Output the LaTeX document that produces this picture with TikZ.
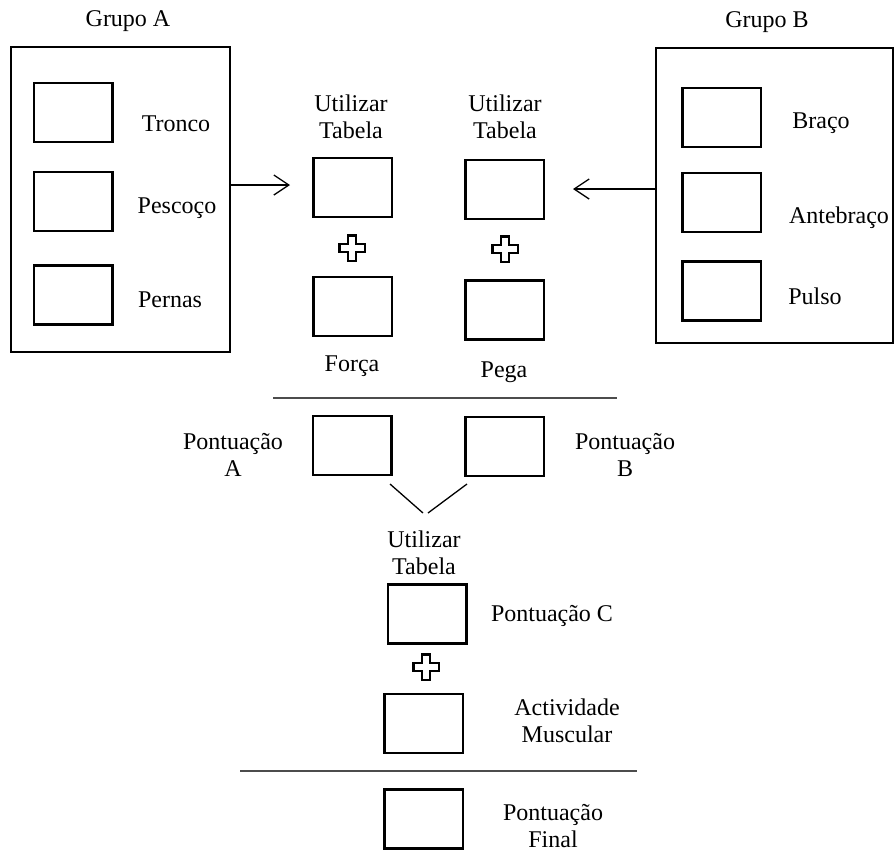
\documentclass[tikz,border=0pt]{standalone}
\usepackage{fontspec}
\setmainfont{Liberation Serif}
\usetikzlibrary{arrows.meta}

\tikzset{
  lbl/.style={inner sep=0pt, align=center, font=\fontsize{24}{27}\selectfont},
  box/.style={draw, line width=2.5pt, inner sep=0pt, minimum width=78.5pt, minimum height=59pt},
  group/.style={draw, line width=2.5pt, inner sep=0pt},
  arr/.style={line width=1.3pt, -{Straight Barb[length=15pt,width=20pt]}},
  rule/.style={draw=black!70, line width=1.8pt},
  link/.style={line width=1.3pt},
  plus/.pic={
    \draw[line width=2.2pt, fill=white]
      (-3.8,-12.6) -- (3.8,-12.6) -- (3.8,-3.8) -- (12.6,-3.8) -- (12.6,3.8)
      -- (3.8,3.8) -- (3.8,12.6) -- (-3.8,12.6) -- (-3.8,3.8) -- (-12.6,3.8)
      -- (-12.6,-3.8) -- (-3.8,-3.8) -- cycle;
  }
}

\begin{document}
\begin{tikzpicture}[x=1pt, y=-1pt]
\useasboundingbox (0,0) rectangle (895,852);

% Grupo A
\node[lbl] (tA) at (128,21) {Grupo A};
\node[group, minimum width=219pt, minimum height=305pt] (grpA) at (120.5,199.5) {};
\node[box] (a1) at (73,112.5) {};
\node[box] (a2) at (73,201.5) {};
\node[box] (a3) at (73,295) {};
\node[lbl] (la1) at (176,124) {Tronco};
\node[lbl] (la2) at (177,208) {Pescoço};
\node[lbl] (la3) at (170,300) {Pernas};

% Grupo B
\node[lbl] (tB) at (767,22) {Grupo B};
\node[group, minimum width=237pt, minimum height=295pt] (grpB) at (774.5,195.5) {};
\node[box] (b1) at (721.5,117.5) {};
\node[box] (b2) at (721.5,202.5) {};
\node[box] (b3) at (721.5,291) {};
\node[lbl] (lb1) at (821,123) {Braço};
\node[lbl] (lb2) at (839,218) {Antebraço};
\node[lbl] (lb3) at (815,296) {Pulso};

% Tabela A + Força
\node[lbl] (u1) at (351,117) {Utilizar\\Tabela};
\node[box] (t1) at (352.5,187.5) {};
\pic at (352,248) {plus};
\node[box] (f1) at (352.5,306.5) {};
\node[lbl] (lf1) at (352,366) {Força};

% Tabela B + Pega
\node[lbl] (u2) at (505,117) {Utilizar\\Tabela};
\node[box] (t2) at (504.5,189.5) {};
\pic at (505,249) {plus};
\node[box] (p2) at (504.5,310) {};
\node[lbl] (lp2) at (504,372) {Pega};

% arrows from the groups into the tables
\coordinate (inA) at (290,185);
\coordinate (inB) at (573,189);
\draw[arr] (grpA.east |- inA) -- (inA);
\draw[arr] (grpB.west |- inB) -- (inB);

% first rule
\coordinate (r1a) at (273,398);
\coordinate (r1b) at (617,398);
\draw[rule] (r1a) -- (r1b);

% Pontuação A and B
\node[lbl] (lsA) at (233,455) {Pontuação\\A};
\node[box] (sA) at (352,445.5) {};
\node[box] (sB) at (504.5,446.5) {};
\node[lbl] (lsB) at (625,455) {Pontuação\\B};

\coordinate (vA) at (390,484);
\coordinate (vB) at (467,484);
\coordinate (vAe) at (423,513);
\coordinate (vBe) at (428,513);
\draw[link] (vA) -- (vAe);
\draw[link] (vB) -- (vBe);

% Tabela C + Actividade Muscular
\node[lbl] (u3) at (424,553) {Utilizar\\Tabela};
\node[box] (sC) at (427,614) {};
\node[lbl] (lsC) at (552,616) {Pontuação C};
\pic at (426,667) {plus};
\node[box] (act) at (423.5,723.5) {};
\node[lbl] (lact) at (567,721) {Actividade\\Muscular};

% second rule
\coordinate (r2a) at (240,771);
\coordinate (r2b) at (637,771);
\draw[rule] (r2a) -- (r2b);

% final score
\node[box] (fin) at (423.5,819) {};
\node[lbl] (lfin) at (553,826) {Pontuação\\Final};
\end{tikzpicture}
\end{document}
